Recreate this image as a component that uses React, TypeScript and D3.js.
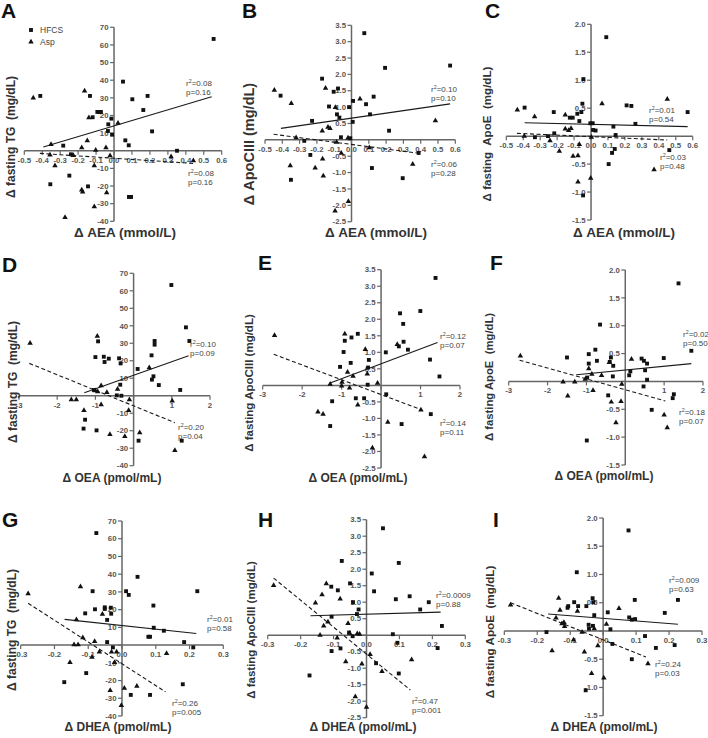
import React from 'react';
import * as d3 from 'd3';

// ---------- tick values ----------
const AEA_TICKS = [-0.5, -0.4, -0.3, -0.2, -0.1, 0, 0.1, 0.2, 0.3, 0.4, 0.5, 0.6];
const OEA_TICKS = [-3, -2, -1, 0, 1, 2];
const DHEA_TICKS = [-0.3, -0.2, -0.1, 0, 0.1, 0.2, 0.3];
const TG_TICKS = [70, 60, 50, 40, 30, 20, 10, 0, -10, -20, -30, -40];
const APOC_TICKS = [3.5, 3, 2.5, 2, 1.5, 1, 0.5, 0, -0.5, -1, -1.5, -2, -2.5];
const APOE_TICKS = [2, 1.5, 1, 0.5, 0, -0.5, -1, -1.5];

// ---------- data: [x, y] ----------
const A_HFCS = [[0.555, 63.4], [-0.411, 31.1], [-0.134, 31.1], [0.05, 39.2], [0.102, 29.2], [0.187, 31.1], [0.163, 23.1], [0.212, 11], [-0.093, 22], [-0.082, 22], [-0.073, 22], [-0.119, 19], [-0.032, 15], [-0.015, 18.2], [-0.034, 11.2], [-0.011, 9.1], [0.063, 5.9], [0.082, 3.1], [-0.283, 2.9], [0.351, 0], [-0.24, -2], [-0.249, -14.1], [-0.355, -19], [-0.145, -20.2], [0.083, -26.2], [0.095, -26.2]];
const A_ASP = [[-0.45, 29.9], [-0.164, 33.9], [-0.14, 18.8], [0.022, 15.7], [-0.351, 3.6], [-0.149, 5.7], [-0.18, 1.8], [-0.045, 1.8], [-0.102, 0.3], [-0.329, -8.5], [-0.11, -8.5], [-0.022, -2.8], [-0.357, -2.4], [-0.227, -2.6], [-0.18, -22.2], [-0.175, -23.4], [-0.11, -31.7], [-0.273, -37.8], [-0.041, -23.8], [0.318, -3.3], [0.442, -5.6]];
const A_LINE_HFCS = [[-0.394, 2.1], [0.544, 30.6]];
const A_LINE_ASP = [[-0.413, -1.5], [0.442, -7.2]];
const A_STATS = [['0.08', '0.16'], ['0.08', '0.16']];

const B_HFCS = [[0.074, 3.26], [0.194, 2.2], [0.57, 2.27], [-0.17, 1.87], [-0.41, 1.35], [-0.103, 1.47], [-0.078, 1.57], [-0.13, 1.02], [-0.014, 1.0], [0.009, 1.19], [0.128, 1.32], [0.084, 1.09], [0.107, 0.78], [-0.084, 0.78], [-0.07, 0.68], [-0.228, 0.58], [0.007, 0.55], [0.217, 0.28], [-0.061, 0.08], [-0.007, 0.05], [-0.238, -0.46], [0.388, -0.4], [0.118, -0.86], [0.296, -1.17], [-0.35, -1.22], [-0.273, -0.03]];
const B_ASP = [[-0.446, 1.52], [-0.348, 1.11], [-0.15, 1.58], [-0.093, 0.99], [0.049, 1.25], [-0.136, 0.39], [-0.124, 0.35], [-0.169, 0.27], [-0.086, -0.07], [-0.059, -0.41], [-0.02, 0.06], [0.103, -0.24], [-0.354, -0.79], [-0.21, -0.86], [-0.163, -1.1], [-0.167, -0.58], [-0.018, -1.88], [-0.095, -2.17], [0.354, -0.74], [0.485, 0.59], [-0.32, 0.07]];
const B_LINE_HFCS = [[-0.408, 0.35], [0.57, 1.1]];
const B_LINE_ASP = [[-0.45, 0.17], [0.392, -0.41]];
const B_STATS = [['0.10', '0.10'], ['0.06', '0.28']];

const C_HFCS = [[0.09, 1.77], [-0.045, 1.02], [-0.392, 0.51], [-0.22, 0.43], [-0.051, 0.58], [-0.057, 0.43], [-0.081, 0.4], [-0.108, 0.33], [-0.125, 0.33], [-0.069, 0.27], [-0.004, 0.23], [0.01, 0.23], [0.21, 0.55], [0.238, 0.54], [0.57, 0.43], [0.262, 0.22], [0.132, 0.17], [0.012, 0.11], [0.027, 0.1], [-0.331, -0.02], [-0.217, 0.05], [-0.254, 0.0], [0.145, 0.02], [0.14, -0.23], [0.124, -0.3], [0.104, -0.5], [0.462, -0.25], [-0.047, -1.06]];
const C_ASP = [[-0.435, 0.47], [-0.333, 0.35], [-0.152, 0.38], [-0.152, 0.13], [-0.132, 0.1], [-0.118, 0.14], [0.065, 0.58], [0.45, 0.66], [-0.187, -0.27], [-0.106, -0.36], [-0.077, -0.35], [-0.077, -0.82], [-0.002, -0.75], [0.372, -0.6], [0.002, -0.02], [-0.069, -0.15], [-0.242, -0.08], [-0.394, 0.0]];
const C_LINE_HFCS = [[-0.392, 0.24], [0.57, 0.17]];
const C_LINE_ASP = [[-0.437, 0.05], [0.45, -0.07]];
const C_STATS = [['0.01', '0.54'], ['0.03', '0.48']];

const D_HFCS = [[0.988, 63.3], [1.37, 39.1], [1.46, 31.3], [-0.93, 31.1], [0.55, 31.3], [0.55, 29.2], [0.47, 23.1], [-1.0, 22.1], [-0.78, 22.3], [-0.65, 21.2], [-0.76, 19.3], [-0.38, 21.4], [-0.34, 18.5], [0.106, 15.3], [0.52, 11.1], [0.48, 9.2], [0.66, 6.1], [-0.35, 6.3], [1.22, 3.3], [-1.04, 3.3], [-0.44, 0.2], [-0.32, 0], [-1.27, -13.7], [-1.31, -18.8], [-0.97, -19.8], [0.13, -25.7], [1.26, -25.7]];
const D_ASP = [[-2.71, 30], [-0.95, 34], [-0.85, 5.7], [-1.0, 2.9], [-0.7, 1.9], [-0.94, 2.3], [-0.42, 3.8], [-1.63, -2.3], [-1.5, -2.3], [-0.85, -5.1], [-1.3, -8.4], [-0.11, -2.3], [-0.13, -8.4], [-0.62, -22.1], [-0.23, -23.2], [0.16, -21.1], [0.41, 16], [1.01, -3], [1.08, -31.2]];
const D_LINE_HFCS = [[-1.29, 1.7], [1.44, 22.9]];
const D_LINE_ASP = [[-2.73, 18.5], [1.08, -15.4]];
const D_STATS = [['0.10', '0.09'], ['0.20', '0.04']];

const E_HFCS = [[1.38, 3.25], [0.995, 2.25], [0.48, 2.18], [0.56, 1.86], [-0.92, 1.35], [-0.75, 1.45], [-0.59, 1.56], [-0.95, 1.01], [0.57, 1.32], [0.45, 1.18], [0.68, 1.08], [0.12, 1.0], [1.24, 0.78], [-0.77, 0.68], [-0.31, 0.77], [-1.04, 0.56], [-0.33, 0.54], [1.48, 0.27], [-0.34, 0.02], [0.13, -0.27], [-0.64, -0.39], [-0.43, -0.39], [-1.24, -0.48], [1.26, -0.87], [0.52, -1.17], [-1.29, -1.23]];
const E_ASP = [[-2.7, 1.51], [-0.92, 1.56], [-0.4, 1.09], [-0.85, 0.4], [-0.71, 0.28], [-0.35, 0.35], [-0.99, 0.1], [-1.0, -0.02], [-1.29, 0.04], [-0.8, -0.08], [-0.09, 0.07], [-0.59, -0.59], [-1.6, -0.8], [-1.47, -0.87], [0.17, -1.11], [-0.22, -1.89], [1.1, -2.16], [1.01, -0.74], [0.41, 1.24]];
const E_LINE_HFCS = [[-1.29, 0.07], [1.43, 1.3]];
const E_LINE_ASP = [[-2.72, 0.94], [1.03, -0.74]];
const E_STATS = [['0.12', '0.07'], ['0.14', '0.11']];

const F_HFCS = [[1.37, 1.76], [-0.65, 1.02], [-0.77, 0.57], [-0.94, 0.49], [-1.5, 0.43], [-0.94, 0.32], [-0.73, 0.37], [-0.37, 0.43], [-0.4, 0.35], [-0.31, 0.28], [0.42, 0.41], [0.48, 0.37], [0.99, 0.42], [1.7, 0.55], [0.56, 0.32], [0.51, 0.2], [0.13, 0.18], [0.1, 0.11], [-0.32, 0.09], [0.56, 0.03], [-0.98, 0.07], [0.47, -0.09], [-0.44, -0.25], [1.25, -0.23], [1.22, -0.3], [0.68, -0.51], [-0.99, -1.06]];
const F_ASP = [[-2.7, 0.46], [-1.6, -0.01], [-1.3, -0.01], [-1.48, -0.26], [-0.94, 0.23], [-0.86, 0.13], [-0.61, 0.11], [-0.41, 0.34], [0.16, 0.4], [-0.83, -0.16], [-1.03, 0.04], [-0.36, -0.37], [-0.11, -0.36], [-0.24, -0.74], [-0.09, -0.05], [1.0, -0.6], [1.08, -0.83]];
const F_LINE_HFCS = [[-1.26, 0.12], [1.7, 0.32]];
const F_LINE_ASP = [[-2.72, 0.38], [1.03, -0.35]];
const F_STATS = [['0.02', '0.50'], ['0.18', '0.07']];

const G_HFCS = [[-0.076, 63.2], [0.046, 38.5], [-0.087, 30.4], [0.012, 30.4], [0.02, 28.3], [0.223, 30.4], [0.093, 22.3], [-0.051, 21.3], [-0.051, 20.4], [-0.033, 21.1], [-0.08, 20.2], [-0.109, 17.9], [-0.044, 14.2], [-0.032, 17.7], [0.094, 9.8], [0.124, 8.1], [0.078, 4.7], [0.083, 4.7], [-0.044, 1.7], [0.184, 1.7], [0.211, -1.3], [-0.027, -1.3], [-0.106, -15.8], [-0.171, -20.9], [0.18, -22.1], [0.026, -28.1], [0.083, -28.1]];
const G_ASP = [[-0.278, 29], [-0.123, 33], [-0.135, 14.3], [-0.058, 17.5], [-0.116, 4.2], [-0.081, 2.1], [-0.142, 0.2], [-0.13, 0.2], [-0.089, -6.8], [-0.067, -3.8], [-0.031, -3.8], [-0.016, -3.8], [-0.022, -9.8], [-0.154, -9.8], [-0.035, -25.5], [0.007, -24.3], [0.044, -23.2], [-0.002, -34], [0.132, -4.7]];
const G_LINE_HFCS = [[-0.17, 14.5], [0.22, 6.5]];
const G_LINE_ASP = [[-0.278, 23.6], [0.129, -26.4]];
const G_STATS = [['0.01', '0.58'], ['0.26', '0.005']];

const H_HFCS = [[0.05, 3.24], [-0.075, 2.25], [0.098, 2.19], [0.016, 1.87], [-0.05, 1.57], [-0.107, 1.47], [-0.087, 1.36], [0.023, 1.33], [0.089, 1.09], [0.131, 1.18], [0.189, 1.0], [-0.041, 1.0], [-0.024, 0.78], [-0.029, 0.64], [-0.106, 0.56], [0.163, 0.78], [0.229, 0.28], [-0.053, 0.08], [-0.042, -0.03], [0.08, 0.03], [-0.106, -0.48], [-0.079, -0.4], [0.216, -0.39], [0.029, -0.85], [0.098, -1.16], [-0.173, -1.22], [0.094, -0.23]];
const H_ASP = [[-0.282, 1.51], [-0.155, 0.98], [-0.122, 1.56], [-0.135, 1.23], [-0.08, 1.1], [-0.13, 0.28], [-0.141, 0], [-0.117, 0.4], [-0.089, -0.08], [-0.056, 0.36], [-0.051, 0.06], [-0.028, 0.05], [-0.021, 0.03], [-0.063, -0.8], [-0.014, -0.87], [0.011, -0.58], [0.047, -1.1], [0.137, -0.74], [-0.034, -1.86], [0.0, -2.18]];
const H_LINE_HFCS = [[-0.17, 0.59], [0.225, 0.7]];
const H_LINE_ASP = [[-0.282, 1.73], [0.133, -1.66]];
const H_STATS = [['0.0009', '0.88'], ['0.47', '0.001']];

const I_HFCS = [[0.077, 1.78], [-0.08, 1.04], [-0.088, 0.51], [-0.076, 0.44], [-0.106, 0.44], [-0.108, 0.41], [-0.051, 0.44], [-0.032, 0.58], [-0.03, 0.51], [-0.027, 0.28], [0.014, 0.33], [0.096, 0.55], [0.227, 0.55], [0.187, 0.32], [0.079, 0.24], [0.087, 0.2], [0.097, 0.21], [-0.044, 0.11], [-0.031, 0.09], [-0.043, 0.04], [0.022, 0.03], [-0.172, -0.02], [0.028, -0.23], [0.127, -0.09], [0.16, -0.3], [0.217, -0.25], [0.087, -0.5], [-0.053, -1.05]];
const I_ASP = [[-0.281, 0.46], [-0.135, 0.58], [-0.131, 0.37], [-0.143, 0.23], [-0.125, 0.13], [-0.119, 0.15], [-0.117, 0.08], [-0.078, 0.35], [-0.09, -0.16], [-0.064, -0.02], [-0.027, 0.04], [-0.016, -0.26], [0.01, 0.12], [0.048, 0.4], [-0.155, -0.35], [-0.057, -0.37], [-0.035, -0.75], [0.002, -0.83], [0.136, -0.58]];
const I_LINE_HFCS = [[-0.167, 0.3], [0.227, 0.12]];
const I_LINE_ASP = [[-0.281, 0.5], [0.13, -0.46]];
const I_STATS = [['0.009', '0.63'], ['0.24', '0.03']];

const LEGEND = ['HFCS', 'Asp'];

// ---------- layout (pixels) ----------
const FONT = 'Liberation Sans, Arial, Helvetica, sans-serif';
const AXIS_COLOR = '#666666';
const TEXT_COLOR = '#333333';

type Pt = number[];
interface PanelDef {
  letter: string; letterPos: [number, number];
  hfcs: Pt[]; asp: Pt[]; lineH: Pt[]; lineA: Pt[]; stats: string[][];
  statPos: [number, number][];
  xTicks: number[]; yTicks: number[]; xDec: number; yDec: number; skipX0: boolean;
  xr: [number, number]; yr: [number, number];
  xLabel: string; xLabelPos: [number, number]; xLabelSize: number;
  yLabel: string; yLabelPos: [number, number]; yLabelSize: number;
}

const ROW1 = { xTicks: AEA_TICKS, xDec: 1, skipX0: false, xLabel: '\u0394 AEA (mmol/L)', xLabelSize: 13.5 };
const ROW2 = { xTicks: OEA_TICKS, xDec: 0, skipX0: true, xLabelSize: 12 };
const ROW3 = { xTicks: DHEA_TICKS, xDec: 1, skipX0: false, xLabel: '\u0394 DHEA (pmol/mL)', xLabelSize: 12 };
const COL1 = { yTicks: TG_TICKS, yDec: 0 };
const COL2 = { yTicks: APOC_TICKS, yDec: 1 };
const COL3 = { yTicks: APOE_TICKS, yDec: 1 };

const PANELS: PanelDef[] = [
  { ...ROW1, ...COL1, letter: 'A', letterPos: [1, 18], hfcs: A_HFCS, asp: A_ASP, lineH: A_LINE_HFCS, lineA: A_LINE_ASP, stats: A_STATS,
    statPos: [[186, 86], [188, 176]], xr: [24.3, 221.7], yr: [27.3, 221.3],
    xLabelPos: [125, 237], yLabel: '\u0394 fasting TG  (mg/dL)', yLabelPos: [15, 137], yLabelSize: 12 },
  { ...ROW1, ...COL2, letter: 'B', letterPos: [242, 18], hfcs: B_HFCS, asp: B_ASP, lineH: B_LINE_HFCS, lineA: B_LINE_ASP, stats: B_STATS,
    statPos: [[431, 92], [431, 167]], xr: [265, 455.3], yr: [25.3, 221.7],
    xLabelPos: [376, 237], yLabel: '\u0394 ApoCIII (mg/dL)', yLabelPos: [254, 144], yLabelSize: 14.5 },
  { ...ROW1, ...COL3, letter: 'C', letterPos: [485, 18], hfcs: C_HFCS, asp: C_ASP, lineH: C_LINE_HFCS, lineA: C_LINE_ASP, stats: C_STATS,
    statPos: [[649, 113], [660, 160]], xr: [506.3, 692.7], yr: [24.3, 220],
    xLabelPos: [624, 237], yLabel: '\u0394 fasting  ApoE  (mg/dL)', yLabelPos: [491, 134], yLabelSize: 11.6 },
  { ...ROW2, ...COL1, letter: 'D', letterPos: [2, 272], hfcs: D_HFCS, asp: D_ASP, lineH: D_LINE_HFCS, lineA: D_LINE_ASP, stats: D_STATS,
    statPos: [[190, 347], [178, 430]], xr: [19, 210], yr: [273.3, 465.7],
    xLabel: '\u0394 OEA (pmol/mL)', xLabelPos: [112, 482], yLabel: '\u0394 fasting TG  (mg/dL)', yLabelPos: [17, 382], yLabelSize: 12 },
  { ...ROW2, ...COL2, letter: 'E', letterPos: [258, 270], hfcs: E_HFCS, asp: E_ASP, lineH: E_LINE_HFCS, lineA: E_LINE_ASP, stats: E_STATS,
    statPos: [[440, 339], [440, 426]], xr: [262.7, 460], yr: [269.7, 468],
    xLabel: '\u0394 OEA  (pmol/mL)', xLabelPos: [358, 482], yLabel: '\u0394 fasting ApoCIII (mg/dL)', yLabelPos: [253, 383], yLabelSize: 11.5 },
  { ...ROW2, ...COL3, letter: 'F', letterPos: [490, 270], hfcs: F_HFCS, asp: F_ASP, lineH: F_LINE_HFCS, lineA: F_LINE_ASP, stats: F_STATS,
    statPos: [[683, 337], [679, 415]], xr: [508.7, 703], yr: [270, 465],
    xLabel: '\u0394 OEA (pmol/mL)', xLabelPos: [604, 480], yLabel: '\u0394 fasting ApoE  (mg/dL)', yLabelPos: [493, 377], yLabelSize: 11.3 },
  { ...ROW3, ...COL1, letter: 'G', letterPos: [2, 527], hfcs: G_HFCS, asp: G_ASP, lineH: G_LINE_HFCS, lineA: G_LINE_ASP, stats: G_STATS,
    statPos: [[207, 622], [172, 706]], xr: [20.7, 223.3], yr: [521, 716],
    xLabelPos: [118, 731], yLabel: '\u0394 fasting TG  (mg/dL)', yLabelPos: [16, 630], yLabelSize: 12 },
  { ...ROW3, ...COL2, letter: 'H', letterPos: [258, 527], hfcs: H_HFCS, asp: H_ASP, lineH: H_LINE_HFCS, lineA: H_LINE_ASP, stats: H_STATS,
    statPos: [[436, 598], [412, 704]], xr: [267.7, 465.3], yr: [519.7, 717.7],
    xLabelPos: [363, 731], yLabel: '\u0394 fasting ApoCIII (mg/dL)', yLabelPos: [255, 630], yLabelSize: 11.5 },
  { ...ROW3, ...COL3, letter: 'I', letterPos: [493, 527], hfcs: I_HFCS, asp: I_ASP, lineH: I_LINE_HFCS, lineA: I_LINE_ASP, stats: I_STATS,
    statPos: [[669, 583], [655, 667]], xr: [504.3, 702], yr: [518, 715.7],
    xLabelPos: [604, 731], yLabel: '\u0394 fasting ApoE  (mg/dL)', yLabelPos: [494, 632], yLabelSize: 11.7 },
];

const squarePath = d3.symbol(d3.symbolSquare, 15)()!;
const trianglePath = d3.symbol(d3.symbolTriangle, 13)()!;

function Panel({ p }: { p: PanelDef }) {
  const xDom = d3.extent(p.xTicks) as [number, number];
  const yDom = d3.extent(p.yTicks) as [number, number];
  const x = d3.scaleLinear().domain(xDom).range(p.xr);
  const y = d3.scaleLinear().domain([yDom[1], yDom[0]]).range(p.yr);
  const x0 = x(0);
  const y0 = y(0);
  const line = d3.line<Pt>().x(d => x(d[0])).y(d => y(d[1]));
  return (
    <g>
      <text x={p.letterPos[0]} y={p.letterPos[1]} fontFamily={FONT} fontWeight="bold" fontSize={21} fill="#111">{p.letter}</text>
      {/* axes */}
      <line x1={p.xr[0]} x2={p.xr[1]} y1={y0} y2={y0} stroke={AXIS_COLOR} strokeWidth={1.5} />
      <line x1={x0} x2={x0} y1={p.yr[0]} y2={p.yr[1]} stroke={AXIS_COLOR} strokeWidth={1.5} />
      {p.yTicks.map(t => (
        <g key={'y' + t}>
          <line x1={x0 - 4} x2={x0} y1={y(t)} y2={y(t)} stroke={AXIS_COLOR} strokeWidth={1.2} />
          {t !== 0 && (
            <text x={x0 - 5.5} y={y(t)} dy="0.35em" textAnchor="end" fontFamily={FONT} fontWeight="bold" fontSize={7.8} fill="#555">
              {t.toFixed(p.yDec)}
            </text>
          )}
        </g>
      ))}
      {p.xTicks.map(t => (
        <g key={'x' + t}>
          <line x1={x(t)} x2={x(t)} y1={y0} y2={y0 + 4} stroke={AXIS_COLOR} strokeWidth={1.2} />
          {!(p.skipX0 && t === 0) && (
            <text x={x(t)} y={y0 + 12} textAnchor="middle" fontFamily={FONT} fontWeight="bold" fontSize={7.8} fill="#555">
              {(Math.abs(t) < 1e-9 ? 0 : t).toFixed(p.xDec)}
            </text>
          )}
        </g>
      ))}
      {/* regression lines */}
      <path d={line(p.lineH)!} fill="none" stroke="#1a1a1a" strokeWidth={1.1} />
      <path d={line(p.lineA)!} fill="none" stroke="#1a1a1a" strokeWidth={1.1} strokeDasharray="4,2.5" />
      {/* points */}
      {p.hfcs.map((d, i) => (
        <path key={'h' + i} d={squarePath} transform={`translate(${x(d[0])},${y(d[1])})`} fill="#111" />
      ))}
      {p.asp.map((d, i) => (
        <path key={'a' + i} d={trianglePath} transform={`translate(${x(d[0])},${y(d[1])})`} fill="#111" />
      ))}
      {/* stats */}
      {p.stats.map((s, i) => (
        <text key={'s' + i} fontFamily={FONT} fontSize={8} fill="#444">
          <tspan x={p.statPos[i][0]} y={p.statPos[i][1]}>r<tspan fontSize={5.3} dy={-3.3}>2</tspan><tspan dy={3.3}>={s[0]}</tspan></tspan>
          <tspan x={p.statPos[i][0]} y={p.statPos[i][1] + 9}>p={s[1]}</tspan>
        </text>
      ))}
      {/* axis labels */}
      <text x={p.xLabelPos[0]} y={p.xLabelPos[1]} textAnchor="middle" fontFamily={FONT} fontWeight="bold" fontSize={p.xLabelSize} fill={TEXT_COLOR}>{p.xLabel}</text>
      <text transform={`translate(${p.yLabelPos[0]},${p.yLabelPos[1]}) rotate(-90)`} textAnchor="middle" fontFamily={FONT} fontWeight="bold" fontSize={p.yLabelSize} fill={TEXT_COLOR} style={{ whiteSpace: 'pre' }}>{p.yLabel}</text>
    </g>
  );
}

export default function App() {
  return (
    <svg width={708} height={738} style={{ position: 'absolute', left: 0, top: 0, background: '#fff' }}>
      <rect width={708} height={738} fill="#fff" />
      {PANELS.map(p => <Panel key={p.letter} p={p} />)}
      {/* legend in panel A */}
      <g fontFamily={FONT} fontSize={8.5} fill="#444">
        <path d={squarePath} transform="translate(31,30)" fill="#111" />
        <text x={40} y={33}>{LEGEND[0]}</text>
        <path d={trianglePath} transform="translate(31,42)" fill="#111" />
        <text x={40} y={45}>{LEGEND[1]}</text>
      </g>
    </svg>
  );
}
